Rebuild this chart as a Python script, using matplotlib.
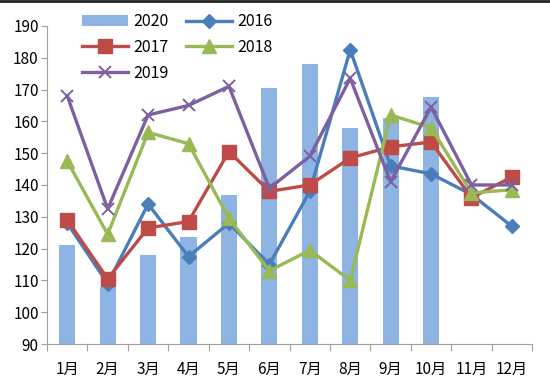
import numpy as np
import matplotlib.pyplot as plt
from matplotlib.lines import Line2D

plt.rcParams['font.family'] = ['Noto Sans CJK SC', 'DejaVu Sans']

months = ['1月', '2月', '3月', '4月', '5月', '6月', '7月', '8月', '9月', '10月', '11月', '12月']
v2020 = [121, 108, 118, 123.5, 137, 170.5, 178, 158, 161, 167.5, np.nan, np.nan]
v2016 = [128, 109, 134, 117.5, 128, 115, 138, 182.5, 146, 143.5, 137, 127]
v2017 = [129, 110.5, 126.5, 128.5, 150.5, 138, 140, 148.5, 152, 153.5, 136, 142.5]
v2018 = [147.5, 124.5, 156.5, 153, 129.5, 113, 119.5, 110, 162, 158, 137.5, 138.5]
v2019 = [168, 132.5, 162, 165, 171, 139, 149, 173.5, 141, 164.5, 140, 140]

fig = plt.figure(figsize=(5.5, 3.81), dpi=100)
ax = fig.add_axes([0.0855, 0.097, 0.882, 0.835])
x = np.arange(len(months))

bar = ax.bar(x, v2020, width=0.4, color='#8DB4E2', label='2020', zorder=1)
l16, = ax.plot(x, v2016, color='#4A7EBB', lw=2.4, marker='D', ms=7, label='2016', zorder=3)
l17, = ax.plot(x, v2017, color='#BE4B48', lw=2.4, marker='s', ms=10, label='2017', zorder=3)
l18, = ax.plot(x, v2018, color='#98B954', lw=2.4, marker='^', ms=10, label='2018', zorder=3)
l19, = ax.plot(x, v2019, color='#7D60A0', lw=2.4, marker='x', ms=9, mew=1.4, label='2019', zorder=4)

ax.set_xlim(-0.5, len(months) - 0.5)
ax.set_ylim(90, 190)
ax.set_yticks(np.arange(90, 191, 10))
ax.set_xticks(np.arange(-0.5, len(months), 1))
ax.set_xticklabels([])
ax.set_xticks(x, minor=True)
ax.set_xticklabels(months, minor=True)
ax.tick_params(axis='x', which='minor', length=0, pad=12, labelsize=11)
ax.tick_params(axis='x', which='major', length=5, color='#A0A0A0', direction='out')
ax.tick_params(axis='y', length=4, color='#A0A0A0', direction='out', labelsize=11, pad=2)
for s in ['top', 'right']:
    ax.spines[s].set_visible(False)
for s in ['left', 'bottom']:
    ax.spines[s].set_color('#A0A0A0')

# column-wise fill: col1 = 2020, 2017, 2019 ; col2 = 2016, 2018
handles = [bar, l17, l19, l16, l18]
ax.legend(handles, [hd.get_label() for hd in handles], ncol=2, frameon=False,
          loc='upper left', bbox_to_anchor=(0.042, 1.085), fontsize=11.5,
          handlelength=2.9, columnspacing=1.1, labelspacing=0.55, handletextpad=0.3)

fig.add_artist(Line2D([0, 1], [0.997, 0.997], transform=fig.transFigure, color='#222222', lw=2))

fig.savefig('out.png', dpi=100)
